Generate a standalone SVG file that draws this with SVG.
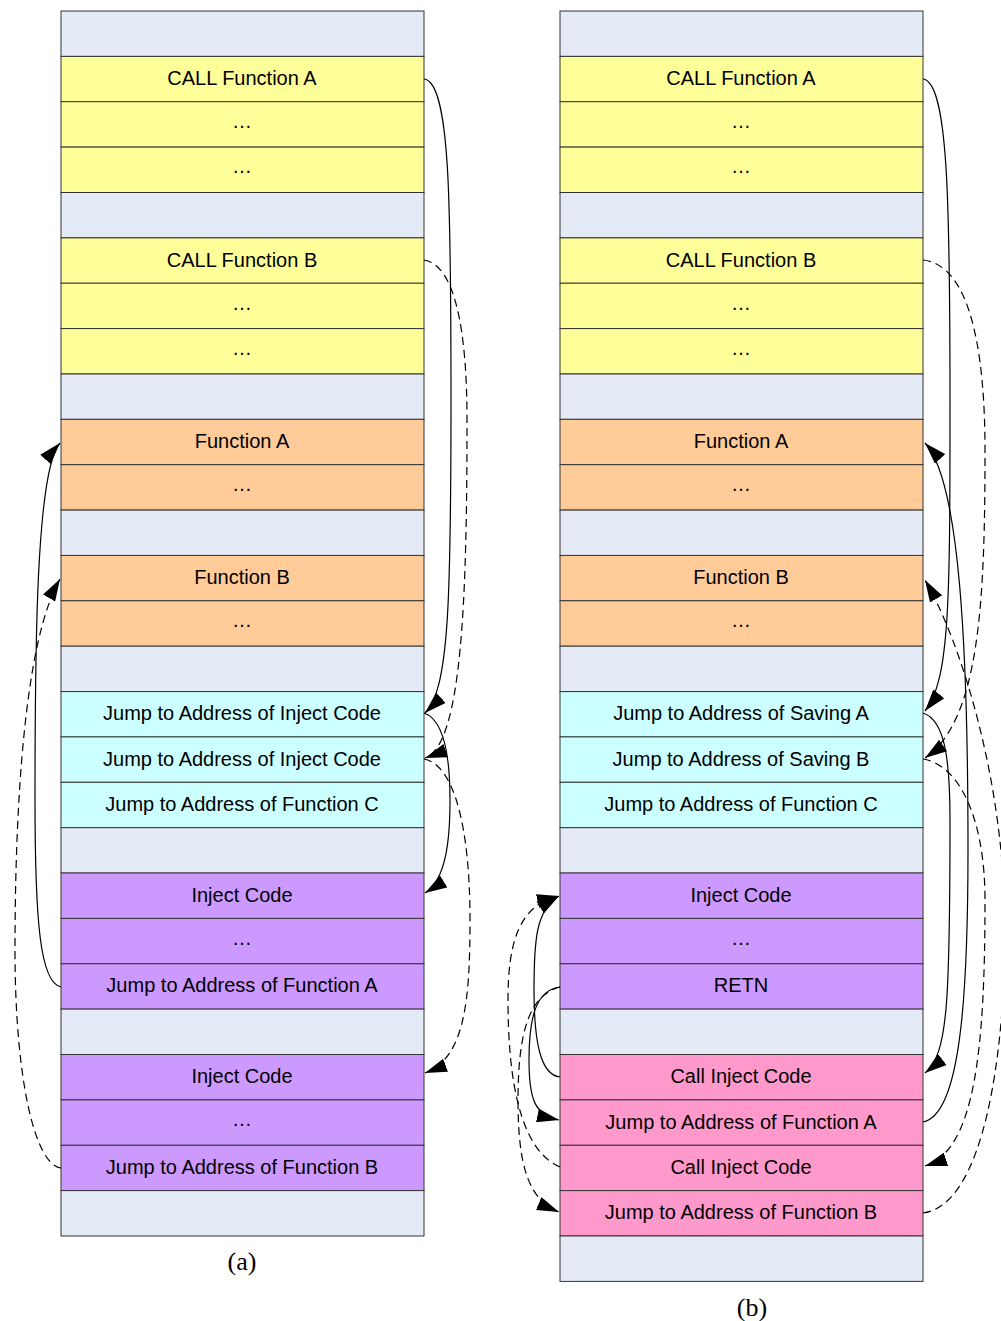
<svg xmlns="http://www.w3.org/2000/svg" width="1001" height="1321" viewBox="0 0 1001 1321">
<style>
rect{stroke:#333;stroke-width:1}
.b{fill:#E5EBF6}.y{fill:#FFFF99}.o{fill:#FFCC99}.c{fill:#CCFFFF}.p{fill:#CC99FF}.k{fill:#FF99CC}
text{font-family:"Liberation Sans",Arial,sans-serif;font-size:20px;fill:#000;text-anchor:middle}
.e{font-size:20px}
.cap{font-family:"Liberation Serif","Times New Roman",serif;font-size:26px}
.s{fill:none;stroke:#000;stroke-width:1.2}
.d{fill:none;stroke:#000;stroke-width:1.2;stroke-dasharray:8,5}
</style>
<defs>
<marker id="ah" markerUnits="userSpaceOnUse" markerWidth="23" markerHeight="14" refX="22" refY="7" orient="auto">
<path d="M0,0 L22,7 L0,14 z" fill="#000"/>
</marker>
</defs>
<rect x="0" y="0" width="1001" height="1321" fill="#fff" style="stroke:none"/>
<g id="colA">
<g id="a0"><rect class="b" x="61" y="11" width="363" height="45.4"/></g>
<g id="a1"><rect class="y" x="61" y="56.4" width="363" height="45.4"/><text x="242" y="85">CALL Function A</text></g>
<g id="a2"><rect class="y" x="61" y="101.7" width="363" height="45.4"/><text class="e" x="242" y="128">…</text></g>
<g id="a3"><rect class="y" x="61" y="147.1" width="363" height="45.4"/><text class="e" x="242" y="173.4">…</text></g>
<g id="a4"><rect class="b" x="61" y="192.5" width="363" height="45.4"/></g>
<g id="a5"><rect class="y" x="61" y="237.9" width="363" height="45.4"/><text x="242" y="266.5">CALL Function B</text></g>
<g id="a6"><rect class="y" x="61" y="283.2" width="363" height="45.4"/><text class="e" x="242" y="309.5">…</text></g>
<g id="a7"><rect class="y" x="61" y="328.6" width="363" height="45.4"/><text class="e" x="242" y="354.9">…</text></g>
<g id="a8"><rect class="b" x="61" y="374" width="363" height="45.4"/></g>
<g id="a9"><rect class="o" x="61" y="419.3" width="363" height="45.4"/><text x="242" y="447.9">Function A</text></g>
<g id="a10"><rect class="o" x="61" y="464.7" width="363" height="45.4"/><text class="e" x="242" y="491">…</text></g>
<g id="a11"><rect class="b" x="61" y="510.1" width="363" height="45.4"/></g>
<g id="a12"><rect class="o" x="61" y="555.4" width="363" height="45.4"/><text x="242" y="584">Function B</text></g>
<g id="a13"><rect class="o" x="61" y="600.8" width="363" height="45.4"/><text class="e" x="242" y="627.1">…</text></g>
<g id="a14"><rect class="b" x="61" y="646.2" width="363" height="45.4"/></g>
<g id="a15"><rect class="c" x="61" y="691.6" width="363" height="45.4"/><text x="242" y="720.2">Jump to Address of Inject Code</text></g>
<g id="a16"><rect class="c" x="61" y="736.9" width="363" height="45.4"/><text x="242" y="765.5">Jump to Address of Inject Code</text></g>
<g id="a17"><rect class="c" x="61" y="782.3" width="363" height="45.4"/><text x="242" y="810.9">Jump to Address of Function C</text></g>
<g id="a18"><rect class="b" x="61" y="827.7" width="363" height="45.4"/></g>
<g id="a19"><rect class="p" x="61" y="873" width="363" height="45.4"/><text x="242" y="901.6">Inject Code</text></g>
<g id="a20"><rect class="p" x="61" y="918.4" width="363" height="45.4"/><text class="e" x="242" y="944.7">…</text></g>
<g id="a21"><rect class="p" x="61" y="963.8" width="363" height="45.4"/><text x="242" y="992.4">Jump to Address of Function A</text></g>
<g id="a22"><rect class="b" x="61" y="1009.1" width="363" height="45.4"/></g>
<g id="a23"><rect class="p" x="61" y="1054.5" width="363" height="45.4"/><text x="242" y="1083.1">Inject Code</text></g>
<g id="a24"><rect class="p" x="61" y="1099.9" width="363" height="45.4"/><text class="e" x="242" y="1126.2">…</text></g>
<g id="a25"><rect class="p" x="61" y="1145.3" width="363" height="45.4"/><text x="242" y="1173.9">Jump to Address of Function B</text></g>
<g id="a26"><rect class="b" x="61" y="1190.6" width="363" height="45.4"/></g>
</g>
<g id="colB">
<g id="b0"><rect class="b" x="560" y="11" width="363" height="45.4"/></g>
<g id="b1"><rect class="y" x="560" y="56.4" width="363" height="45.4"/><text x="741" y="85">CALL Function A</text></g>
<g id="b2"><rect class="y" x="560" y="101.7" width="363" height="45.4"/><text class="e" x="741" y="128">…</text></g>
<g id="b3"><rect class="y" x="560" y="147.1" width="363" height="45.4"/><text class="e" x="741" y="173.4">…</text></g>
<g id="b4"><rect class="b" x="560" y="192.5" width="363" height="45.4"/></g>
<g id="b5"><rect class="y" x="560" y="237.9" width="363" height="45.4"/><text x="741" y="266.5">CALL Function B</text></g>
<g id="b6"><rect class="y" x="560" y="283.2" width="363" height="45.4"/><text class="e" x="741" y="309.5">…</text></g>
<g id="b7"><rect class="y" x="560" y="328.6" width="363" height="45.4"/><text class="e" x="741" y="354.9">…</text></g>
<g id="b8"><rect class="b" x="560" y="374" width="363" height="45.4"/></g>
<g id="b9"><rect class="o" x="560" y="419.3" width="363" height="45.4"/><text x="741" y="447.9">Function A</text></g>
<g id="b10"><rect class="o" x="560" y="464.7" width="363" height="45.4"/><text class="e" x="741" y="491">…</text></g>
<g id="b11"><rect class="b" x="560" y="510.1" width="363" height="45.4"/></g>
<g id="b12"><rect class="o" x="560" y="555.4" width="363" height="45.4"/><text x="741" y="584">Function B</text></g>
<g id="b13"><rect class="o" x="560" y="600.8" width="363" height="45.4"/><text class="e" x="741" y="627.1">…</text></g>
<g id="b14"><rect class="b" x="560" y="646.2" width="363" height="45.4"/></g>
<g id="b15"><rect class="c" x="560" y="691.6" width="363" height="45.4"/><text x="741" y="720.2">Jump to Address of Saving A</text></g>
<g id="b16"><rect class="c" x="560" y="736.9" width="363" height="45.4"/><text x="741" y="765.5">Jump to Address of Saving B</text></g>
<g id="b17"><rect class="c" x="560" y="782.3" width="363" height="45.4"/><text x="741" y="810.9">Jump to Address of Function C</text></g>
<g id="b18"><rect class="b" x="560" y="827.7" width="363" height="45.4"/></g>
<g id="b19"><rect class="p" x="560" y="873" width="363" height="45.4"/><text x="741" y="901.6">Inject Code</text></g>
<g id="b20"><rect class="p" x="560" y="918.4" width="363" height="45.4"/><text class="e" x="741" y="944.7">…</text></g>
<g id="b21"><rect class="p" x="560" y="963.8" width="363" height="45.4"/><text x="741" y="992.4">RETN</text></g>
<g id="b22"><rect class="b" x="560" y="1009.1" width="363" height="45.4"/></g>
<g id="b23"><rect class="k" x="560" y="1054.5" width="363" height="45.4"/><text x="741" y="1083.1">Call Inject Code</text></g>
<g id="b24"><rect class="k" x="560" y="1099.9" width="363" height="45.4"/><text x="741" y="1128.5">Jump to Address of Function A</text></g>
<g id="b25"><rect class="k" x="560" y="1145.3" width="363" height="45.4"/><text x="741" y="1173.9">Call Inject Code</text></g>
<g id="b26"><rect class="k" x="560" y="1190.6" width="363" height="45.4"/><text x="741" y="1219.2">Jump to Address of Function B</text></g>
<g id="b27"><rect class="b" x="560" y="1236" width="363" height="45.4"/></g>
</g>
<g id="connectors">
<path class="s" marker-end="url(#ah)" d="M424,79 C450,82 451,200 451,400 C451,600 449,690 425,713"/>
<path class="d" marker-end="url(#ah)" d="M424,260 C455,265 467,330 467,420 C467,600 462,745 425,758"/>
<path class="s" marker-end="url(#ah)" d="M424,713 C445,720 450,760 450,800 C450,840 446,880 425,893"/>
<path class="d" marker-end="url(#ah)" d="M424,759 C455,765 470,830 470,920 C470,1000 465,1058 425,1073"/>
<path class="s" marker-end="url(#ah)" d="M61,987 C40,983 35,920 35,800 C35,650 36,470 60,443"/>
<path class="d" marker-end="url(#ah)" d="M61,1168 C35,1165 15,1080 15,950 C15,800 25,640 60,579"/>
<path class="s" marker-end="url(#ah)" d="M923,79 C948,82 950,200 950,400 C950,600 950,680 925,711"/>
<path class="d" marker-end="url(#ah)" d="M923,260 C970,265 985,350 985,450 C985,600 980,720 925,758"/>
<path class="s" marker-end="url(#ah)" d="M923,1122 C960,1115 968,1000 968,850 C968,650 960,480 925,443"/>
<path class="s" marker-end="url(#ah)" d="M923,713 C945,720 950,760 950,820 C950,1000 948,1055 925,1073"/>
<path class="d" marker-end="url(#ah)" d="M923,759 C960,765 985,820 985,900 C985,1050 975,1150 925,1166"/>
<path class="d" marker-end="url(#ah)" d="M923,1213 C985,1205 1005,1050 1005,930 C1005,780 960,640 925,580"/>
<path class="s" marker-end="url(#ah)" d="M560,1077 C540,1075 534,1040 534,990 C534,940 536,910 559,896"/>
<path class="s" marker-end="url(#ah)" d="M560,987 C535,990 529,1020 529,1060 C529,1100 535,1115 559,1120"/>
<path class="d" marker-end="url(#ah)" d="M560,1167 C520,1150 508,1080 508,1000 C508,940 520,905 559,896"/>
<path class="d" marker-end="url(#ah)" d="M560,987 C530,995 518,1030 518,1100 C518,1170 530,1200 559,1212"/>
</g>
<text class="cap" x="242" y="1270">(a)</text>
<text class="cap" x="752" y="1316">(b)</text>
</svg>
